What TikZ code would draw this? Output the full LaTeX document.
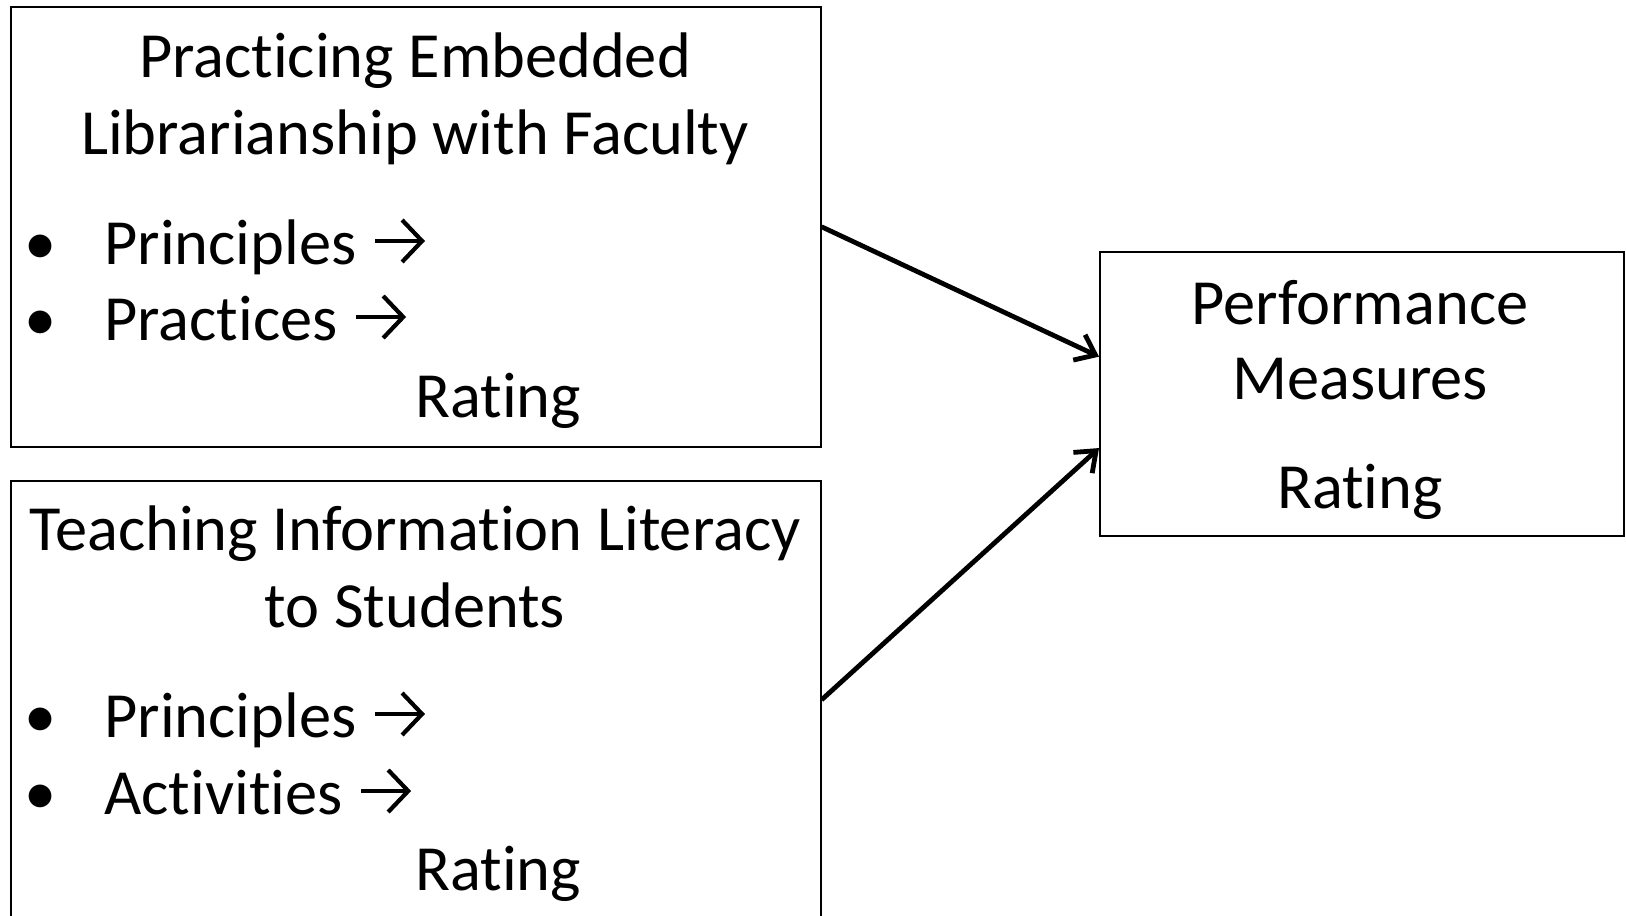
\documentclass[tikz,border=0pt]{standalone}
\usepackage{fontspec}
\setmainfont[Ligatures=NoCommon]{Carlito}
\usetikzlibrary{arrows.meta,calc}
\begin{document}
\begin{tikzpicture}[x=0.5pt,y=-0.5pt, >={Straight Barb[length=9pt,width=14pt]},
    every node/.style={font=\fontsize{32.2}{38}\selectfont},
    box/.style={draw,line width=0.8pt,inner sep=0pt,anchor=north west},
    txt/.style={anchor=base,inner sep=0pt},
    item/.style={anchor=base west,inner sep=0pt},
    link/.style={->,line width=2.4pt},
    pointer/.style={-{Straight Barb[length=10pt,width=21pt]},line width=2.1pt}]
    \useasboundingbox (0,0) rectangle (1626,915);
    % boxes
    \node[box,minimum width=405pt,minimum height=220pt] (faculty) at (10,6) {};
    \node[box,minimum width=405pt,minimum height=219pt] (students) at (10,480) {};
    \node[box,minimum width=262pt,minimum height=142pt] (perf) at (1099,251) {};
    % embedded librarianship
    \node[txt] (f1) at (415,78) {Practicing Embedded};
    \node[txt] (f2) at (415,155) {Librarianship with Faculty};
    \node[txt] (fb1) at (41,264) {•};
    \node[item] (fi1) at (104,264) {Principles};
    \node[txt] (fb2) at (41,340) {•};
    \node[item] (fi2) at (104,340) {Practices};
    \node[item] (fr) at (415,417) {Rating};
    % information literacy
    \node[txt] (s1) at (415,550) {Teaching Information Literacy};
    \node[txt] (s2) at (415,627) {to Students};
    \node[txt] (sb1) at (41,737) {•};
    \node[item] (si1) at (104,737) {Principles};
    \node[txt] (sb2) at (41,814) {•};
    \node[item] (si2) at (104,814) {Activities};
    \node[item] (sr) at (415,890) {Rating};
    % little arrows after the bullet items
    \foreach \n in {fi1,fi2,si1,si2}
        \draw[pointer] ([xshift=9pt,yshift=11.5pt]\n.base east) -- ++(25pt,0);
    % performance
    \node[txt] (p1) at (1360,324) {Performance};
    \node[txt] (p2) at (1360,399) {Measures};
    \node[txt] (pr) at (1360,508) {Rating};
    \coordinate (in1) at ($(perf.north west)!0.37!(perf.south west)$);
    \coordinate (in2) at ($(perf.north west)!0.69!(perf.south west)$);
    \draw[link] (faculty.east) -- (in1);
    \draw[link] (students.east) -- (in2);
\end{tikzpicture}
\end{document}
